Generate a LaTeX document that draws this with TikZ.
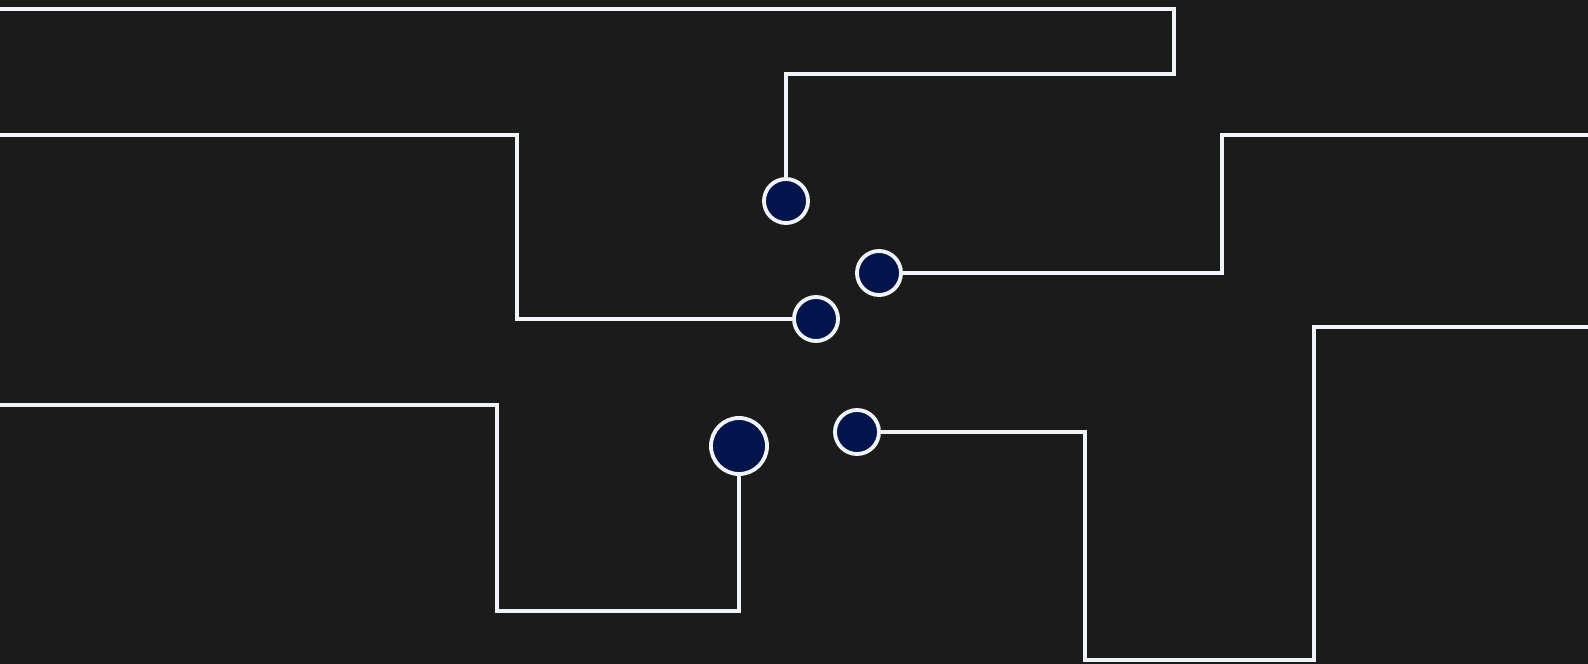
\documentclass[tikz,border=0pt]{standalone}
\usepackage{xcolor}
\usepackage{tikz}
\usetikzlibrary{backgrounds}
\definecolor{boardbg}{HTML}{1B1B1B}
\definecolor{padblue}{HTML}{01154C}
\definecolor{wire}{HTML}{F0F3F8}

\begin{document}
\begin{tikzpicture}[
  x=0.01cm, y=-0.01cm,
  trace/.style={draw=wire, line width=1.35pt},
  pad/.style={circle, draw=wire, fill=padblue, line width=1.1pt, inner sep=0pt, minimum size=4.4mm},
  bigpad/.style={pad, minimum size=5.6mm}
]

\fill[boardbg] (0,0) rectangle (1588,664);
\useasboundingbox (0,0) rectangle (1588,664);

\node[pad] (p1) at (786,201) {};
\node[pad] (p2) at (816,319) {};
\node[pad] (p3) at (879,273) {};
\node[pad] (p4) at (857,432) {};
\node[bigpad] (p5) at (739,446) {};

\coordinate (w1) at (0,9);
\coordinate (w2) at (0,135);
\coordinate (w3) at (1588,135);
\coordinate (w4) at (1588,327);
\coordinate (w5) at (0,405);

\coordinate (k1) at (1174,74);
\coordinate (k2) at (517,319);
\coordinate (k3) at (1222,273);
\coordinate (k4) at (1314,660);
\coordinate (k5) at (1085,432);
\coordinate (k6) at (497,611);

\draw[trace] (w1) -| (k1) -| (p1);
\draw[trace] (w2) -| (k2) -- (p2);
\draw[trace] (w3) -| (k3) -- (p3);
\draw[trace] (w4) -| (k4) -| (k5) -- (p4);
\draw[trace] (w5) -| (k6) -| (p5);

\end{tikzpicture}
\end{document}
